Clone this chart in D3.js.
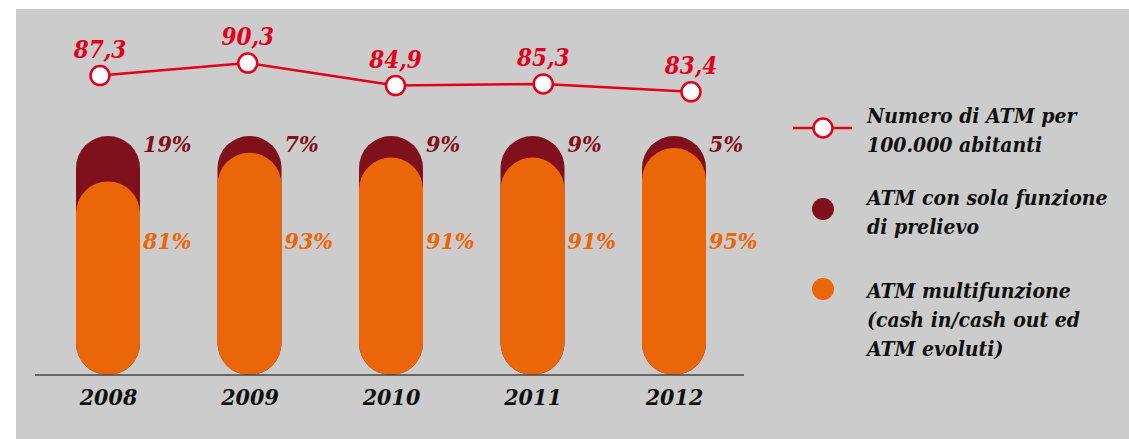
<!DOCTYPE html>
<html>
<head>
<meta charset="utf-8">
<script src="https://cdn.jsdelivr.net/npm/d3@7"></script>
<style>
  body { margin: 0; background: #fff; }
  svg text { font-family: "DejaVu Serif Condensed", "DejaVu Serif", serif; font-style: italic; font-stretch: condensed; }
</style>
</head>
<body>
<div id="chart"></div>
<script>
var years = ["2008", "2009", "2010", "2011", "2012"]
var atmPer100k = [87.3, 90.3, 84.9, 85.3, 83.4]
var soloPrelievo = [19, 7, 9, 9, 5]
var multifunzione = [81, 93, 91, 91, 95]
var legendItems = [
  { kind: "line", lines: ["Numero di ATM per", "100.000 abitanti"] },
  { kind: "dark", lines: ["ATM con sola funzione", "di prelievo"] },
  { kind: "orange", lines: ["ATM multifunzione", "(cash in/cash out ed", "ATM evoluti)"] }
]

var red = "#e2001a", dark = "#80101b", orange = "#eb6608"
var width = 1129, height = 439
var fmt = function (v) { return d3.format(".1f")(v).replace(".", ",") }

var svg = d3.select("#chart").append("svg")
  .attr("width", width).attr("height", height)

svg.append("rect").attr("x", 16).attr("y", 9)
  .attr("width", width - 16).attr("height", height - 9)
  .attr("fill", "#cccccc")

// bars
var x = d3.scalePoint().domain(years).range([108, 674])
var y = d3.scaleLinear().domain([0, 100]).range([375, 136])
var barW = 64, r = barW / 2

function pill(cx, top, bottom) {
  return "M" + (cx - r) + "," + (top + r) +
    "A" + r + "," + r + " 0 0 1 " + (cx + r) + "," + (top + r) +
    "V" + (bottom - r) +
    "A" + r + "," + r + " 0 0 1 " + (cx - r) + "," + (bottom - r) + "Z"
}

var bars = svg.append("g").selectAll("g").data(years).enter().append("g")
bars.append("path")
  .attr("d", function (d, i) { return pill(x(d), y(soloPrelievo[i] + multifunzione[i]), y(0)) })
  .attr("fill", dark)
bars.append("path")
  .attr("d", function (d, i) { return pill(x(d), y(multifunzione[i]), y(0)) })
  .attr("fill", orange)
bars.append("text")
  .attr("x", function (d) { return x(d) + r + 3 })
  .attr("y", 152)
  .attr("fill", dark).attr("font-size", 23).attr("font-weight", "bold")
  .text(function (d, i) { return soloPrelievo[i] + "%" })
bars.append("text")
  .attr("x", function (d) { return x(d) + r + 3 })
  .attr("y", 249)
  .attr("fill", orange).attr("font-size", 23).attr("font-weight", "bold")
  .text(function (d, i) { return multifunzione[i] + "%" })

// axis
var axis = svg.append("g").attr("transform", "translate(0,375)")
  .call(d3.axisBottom(x).tickSize(0).tickPadding(14))
axis.select(".domain").attr("d", "M35,0H744").attr("stroke", "#444").attr("stroke-width", 1.5)
axis.selectAll("text")
  .attr("font-size", 23).attr("font-weight", "bold").attr("fill", "#111")
  .attr("font-family", null)

// line
var xl = d3.scalePoint().domain(years).range([100, 691])
var yl = d3.scaleLinear().domain([80, 95]).range([106, 43.5])
svg.append("path")
  .datum(atmPer100k)
  .attr("fill", "none").attr("stroke", red).attr("stroke-width", 2.5)
  .attr("d", d3.line().x(function (d, i) { return xl(years[i]) }).y(function (d) { return yl(d) }))
var pts = svg.append("g").selectAll("g").data(atmPer100k).enter().append("g")
pts.append("circle")
  .attr("cx", function (d, i) { return xl(years[i]) })
  .attr("cy", function (d) { return yl(d) })
  .attr("r", 9.5).attr("fill", "#fff").attr("stroke", red).attr("stroke-width", 2.5)
pts.append("text")
  .attr("x", function (d, i) { return xl(years[i]) })
  .attr("y", function (d) { return yl(d) - 18 })
  .attr("text-anchor", "middle")
  .attr("fill", red).attr("font-size", 24).attr("font-weight", "bold")
  .text(fmt)

// legend
var legendY = [128, 209, 289], textY = [123, 205, 298]
var lg = svg.append("g").selectAll("g").data(legendItems).enter().append("g")
lg.each(function (d, i) {
  var g = d3.select(this)
  if (d.kind === "line") {
    g.append("line").attr("x1", 793).attr("x2", 852).attr("y1", legendY[i]).attr("y2", legendY[i])
      .attr("stroke", red).attr("stroke-width", 2.5)
    g.append("circle").attr("cx", 823).attr("cy", legendY[i]).attr("r", 9.5)
      .attr("fill", "#fff").attr("stroke", red).attr("stroke-width", 2.5)
  } else {
    g.append("circle").attr("cx", 823).attr("cy", legendY[i]).attr("r", 11)
      .attr("fill", d.kind === "dark" ? dark : orange)
  }
  g.selectAll("text").data(d.lines).enter().append("text")
    .attr("x", 867).attr("y", function (t, j) { return textY[i] + j * 29 })
    .attr("font-size", 21).attr("font-weight", "bold").attr("fill", "#111")
    .text(function (t) { return t })
})
</script>
</body>
</html>
